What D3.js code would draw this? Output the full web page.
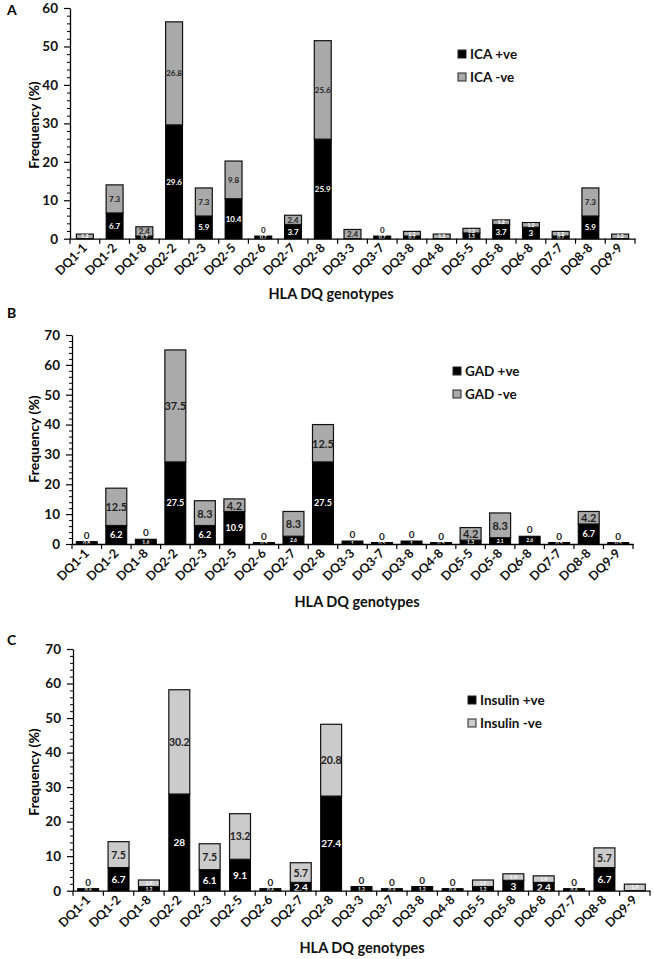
<!DOCTYPE html>
<html>
<head>
<meta charset="utf-8">
<script src="https://cdn.jsdelivr.net/npm/d3@7"></script>
<style>
  html, body { margin: 0; padding: 0; background: #fff; }
  svg { display: block; }
  text { font-family: Lato, "Open Sans", "Liberation Sans", sans-serif; }
</style>
</head>
<body>
<svg id="chart" width="654" height="959"></svg>
<script>
const categories = ["DQ1-1","DQ1-2","DQ1-8","DQ2-2","DQ2-3","DQ2-5","DQ2-6","DQ2-7","DQ2-8","DQ3-3","DQ3-7","DQ3-8","DQ4-8","DQ5-5","DQ5-8","DQ6-8","DQ7-7","DQ8-8","DQ9-9"];

const icaPos = [0, 6.7, 0.7, 29.6, 5.9, 10.4, 0.7, 3.7, 25.9, 0, 0.7, 0.7, 0, 1.5, 3.7, 3, 0.7, 5.9, 0];
const icaNeg = [1.2, 7.3, 2.4, 26.8, 7.3, 9.8, 0, 2.4, 25.6, 2.4, 0, 1.2, 1.2, 1.2, 1.2, 1.2, 1.2, 7.3, 1.2];

const gadPos = [0.8, 6.2, 1.6, 27.5, 6.2, 10.9, 0.5, 2.6, 27.5, 1.0, 0.5, 1.0, 0.5, 1.3, 2.1, 2.6, 0.5, 6.7, 0.5];
const gadNeg = [0, 12.5, 0, 37.5, 8.3, 4.2, 0, 8.3, 12.5, 0, 0, 0, 0, 4.2, 8.3, 0, 0, 4.2, 0];

const insPos = [0.6, 6.7, 1.2, 28, 6.1, 9.1, 0.6, 2.4, 27.4, 1.2, 0.6, 1.2, 0.6, 1.2, 3, 2.4, 0.6, 6.7, 0];
const insNeg = [0, 7.5, 1.9, 30.2, 7.5, 13.2, 0, 5.7, 20.8, 0, 0, 0, 0, 1.9, 1.9, 1.9, 0, 5.7, 1.9];

const ticksA = [0, 10, 20, 30, 40, 50, 60];
const ticksBC = [0, 10, 20, 30, 40, 50, 60, 70];

const panels = [
  { letter: "A", letterY: 15, pos: icaPos, neg: icaNeg, legend: ["ICA +ve", "ICA -ve"], grey: "#a9a9a9",
    x0: 70, x1: 635, yTop: 8, yBot: 238.7, max: 60, ticks: ticksA, gap: 0.43,
    titleY: 125, xTitleX: 331, xTitleY: 299, legX: 458, legY: 50, labelSize: 8, greyLabelSize: 8 },
  { letter: "B", letterY: 318, pos: gadPos, neg: gadNeg, legend: ["GAD +ve", "GAD -ve"], grey: "#aaaaaa",
    x0: 72, x1: 633, yTop: 335, yBot: 544, max: 70, ticks: ticksBC, gap: 0.29,
    titleY: 439, xTitleX: 357, xTitleY: 607, legX: 453, legY: 367, labelSize: 9, greyLabelSize: 11 },
  { letter: "C", letterY: 645, pos: insPos, neg: insNeg, legend: ["Insulin +ve", "Insulin -ve"], grey: "#cbcbcb",
    x0: 73, x1: 650, yTop: 649, yBot: 890.7, max: 70, ticks: ticksBC, gap: 0.31,
    titleY: 772, xTitleX: 362, xTitleY: 953, legX: 468, legY: 696, labelSize: 10, greyLabelSize: 10.5 }
];

const svg = d3.select("#chart");

panels.forEach(p => {
  const g = svg.append("g");
  const x = d3.scaleBand().domain(categories).range([p.x0, p.x1]).padding(0);
  const y = d3.scaleLinear().domain([0, p.max]).range([p.yBot, p.yTop]);
  const bw = x.bandwidth() * (1 - p.gap);

  // Panel letter
  g.append("text").attr("x", 7).attr("y", p.letterY).attr("font-size", 14).attr("font-weight", 700).text(p.letter);

  // Y axis minor ticks
  const minorTicks = d3.range(0, p.max + 0.001, 2).filter(v => v % 10 !== 0);
  g.append("g").attr("transform", `translate(${p.x0},0)`)
    .call(d3.axisLeft(y).tickValues(minorTicks).tickSize(3).tickFormat(""))
    .call(a => a.select(".domain").remove())
    .call(a => a.selectAll("line").attr("stroke", "#000"));
  const yAxis = g.append("g").attr("transform", `translate(${p.x0},0)`)
    .call(d3.axisLeft(y).tickValues(p.ticks).tickSize(6).tickSizeOuter(0).tickPadding(6));
  yAxis.select(".domain").attr("stroke", "#000").attr("stroke-width", 1.3);
  yAxis.selectAll("line").attr("stroke", "#000").attr("stroke-width", 1.2);
  yAxis.selectAll("text").attr("font-size", 13.5).attr("font-weight", 700).attr("fill", "#111")
    .attr("font-family", "Lato, 'Open Sans', sans-serif");

  // Y title
  g.append("text").attr("transform", `translate(33,${p.titleY}) rotate(-90)`)
    .attr("text-anchor", "middle").attr("dominant-baseline", "central")
    .attr("font-size", 14).attr("font-weight", 700).text("Frequency (%)");

  // Bars
  const bars = g.append("g");
  categories.forEach((c, i) => {
    const cx = x(c) + x.bandwidth() / 2;
    const pv = p.pos[i], nv = p.neg[i];
    if (pv > 0) {
      bars.append("rect").attr("x", cx - bw / 2).attr("y", y(pv)).attr("width", bw)
        .attr("height", y(0) - y(pv)).attr("fill", "#000").attr("stroke", "#000").attr("stroke-width", 1);
    }
    if (nv > 0) {
      bars.append("rect").attr("x", cx - bw / 2).attr("y", y(pv + nv)).attr("width", bw)
        .attr("height", y(pv) - y(pv + nv)).attr("fill", p.grey).attr("stroke", "#111").attr("stroke-width", 1.2);
    }
  });

  // Labels
  const labels = g.append("g").attr("font-weight", 700).attr("text-anchor", "middle");
  categories.forEach((c, i) => {
    const cx = x(c) + x.bandwidth() / 2;
    const pv = p.pos[i], nv = p.neg[i];
    const hp = y(0) - y(pv), hn = y(pv) - y(pv + nv);
    if (pv > 0) {
      const fs = hp < 8 ? 5 : p.labelSize;
      labels.append("text").attr("x", cx).attr("y", (y(0) + y(pv)) / 2)
        .attr("dominant-baseline", "central").attr("font-size", fs)
        .attr("fill", "#fff").text(pv);
    }
    if (nv > 0) {
      const fs = hn < 8 ? 5 : p.greyLabelSize;
      labels.append("text").attr("x", cx).attr("y", (y(pv) + y(pv + nv)) / 2)
        .attr("dominant-baseline", "central").attr("font-size", fs)
        .attr("fill", hn < 8 ? "#fff" : "#222").text(nv);
    } else if (pv > 0) {
      labels.append("text").attr("x", cx).attr("y", y(pv) - 3)
        .attr("font-size", p.letter === "A" ? 8 : 10).attr("fill", "#222").text("0");
    }
  });

  // X axis line
  const xAxis = g.append("g").attr("transform", `translate(0,${p.yBot})`)
    .call(d3.axisBottom(x).tickSize(0).tickFormat(""));
  xAxis.select(".domain").attr("stroke", "#000").attr("stroke-width", 1.3);
  // boundary ticks
  const bounds = categories.map(c => x(c)).concat([p.x1]);
  g.append("g").selectAll("line").data(bounds).join("line")
    .attr("x1", d => d).attr("x2", d => d)
    .attr("y1", p.yBot).attr("y2", p.yBot + 5)
    .attr("stroke", "#000").attr("stroke-width", 1.2);
  // rotated category labels (nested groups)
  const lg = g.append("g").selectAll("g").data(categories).join("g")
    .attr("transform", d => `translate(${x(d) + x.bandwidth() / 2 + 3},${p.yBot + 10})`);
  lg.append("text")
    .attr("transform", "rotate(-45)")
    .attr("text-anchor", "end")
    .attr("font-size", 12.5).attr("font-weight", 700).attr("fill", "#111")
    .text(d => d);

  // X title
  g.append("text").attr("x", p.xTitleX).attr("y", p.xTitleY).attr("text-anchor", "middle")
    .attr("font-size", 14.5).attr("font-weight", 700).attr("fill", "#111").text("HLA DQ genotypes");

  // Legend
  const leg = g.append("g").attr("transform", `translate(${p.legX},${p.legY})`);
  [["#000", p.legend[0]], [p.grey, p.legend[1]]].forEach((d, k) => {
    leg.append("rect").attr("x", 0).attr("y", k * 23).attr("width", 8).attr("height", 8)
      .attr("fill", d[0]).attr("stroke", "#222").attr("stroke-width", 1);
    leg.append("text").attr("x", 12).attr("y", k * 23 + 4).attr("dominant-baseline", "central")
      .attr("font-size", 13.5).attr("font-weight", 700).attr("fill", "#111").text(d[1]);
  });
});
</script>
</body>
</html>
